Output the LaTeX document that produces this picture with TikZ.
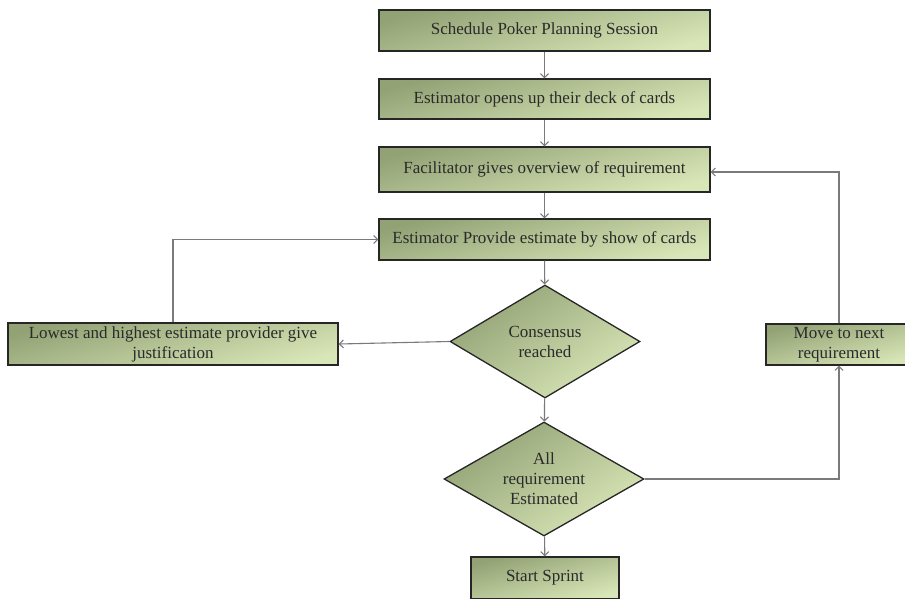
\documentclass[tikz,border=0pt]{standalone}
\usepackage{fontspec}
\setmainfont{Liberation Serif}
\usetikzlibrary{shapes.geometric,arrows.meta}
\definecolor{olivedark}{HTML}{93A274}
\definecolor{olivelight}{HTML}{D8E6B8}
\definecolor{linegray}{HTML}{7A7A7A}
\definecolor{txtc}{HTML}{2A2A2A}
\tikzset{
  stepbox/.style={draw=black!85, line width=1.3pt, shading=axis,
    top color=olivedark, bottom color=olivelight, shading angle=15,
    inner sep=0pt, align=center, text=txtc, font=\fontsize{17}{20}\selectfont},
  decision/.style={stepbox, diamond, shape aspect=1.7, shading angle=35},
  conn/.style={draw=linegray, line width=1.1pt,
    -{Straight Barb[length=4pt,width=8pt]}}
}
\begin{document}
\begin{tikzpicture}[x=1pt,y=-1pt]
\useasboundingbox (0,0) rectangle (905,598);
\begin{scope}
\clip (0,0) rectangle (905,598);
\node[stepbox, minimum width=331, minimum height=41] (b1) at (544.5,30.5) {Schedule Poker Planning Session};
\node[stepbox, minimum width=331, minimum height=40] (b2) at (544.5,99) {Estimator opens up their deck of cards};
\node[stepbox, minimum width=331, minimum height=45] (b3) at (544.5,169.5) {Facilitator gives overview of requirement};
\node[stepbox, minimum width=331, minimum height=41] (b4) at (544.5,239.5) {Estimator Provide estimate by show of cards};
\node[decision, minimum width=190, minimum height=113] (d1) at (545,341.5) {Consensus\\reached};
\node[stepbox, minimum width=330, minimum height=42] (lb) at (173,344) {Lowest and highest estimate provider give\\justification};
\node[decision, minimum width=200, minimum height=114] (d2) at (544,479) {All\\requirement\\Estimated};
\node[stepbox, minimum width=146, minimum height=41] (mv) at (839,344.5) {Move to next\\requirement};
\node[stepbox, minimum width=148, minimum height=42] (ss) at (545,578) {Start Sprint};
\coordinate (rt) at (839,172);
\coordinate (lt) at (173,239.5);
\coordinate (rb) at (839,479);
\end{scope}
\draw[conn] (b1) -- (b2);
\draw[conn] (b2) -- (b3);
\draw[conn] (b3) -- (b4);
\draw[conn] (b4) -- (d1);
\draw[conn] (d1) -- (d2);
\draw[conn] (d2) -- (ss);
\draw[conn] (d1.west) -- (lb.east);
\draw[conn] (lb.north) -- (lt) -- (b4.west);
\draw[conn] (d2.east) -- (rb) -- (mv.south);
\draw[conn] (mv.north) -- (rt) -- (b3.east |- rt);
\end{tikzpicture}
\end{document}
